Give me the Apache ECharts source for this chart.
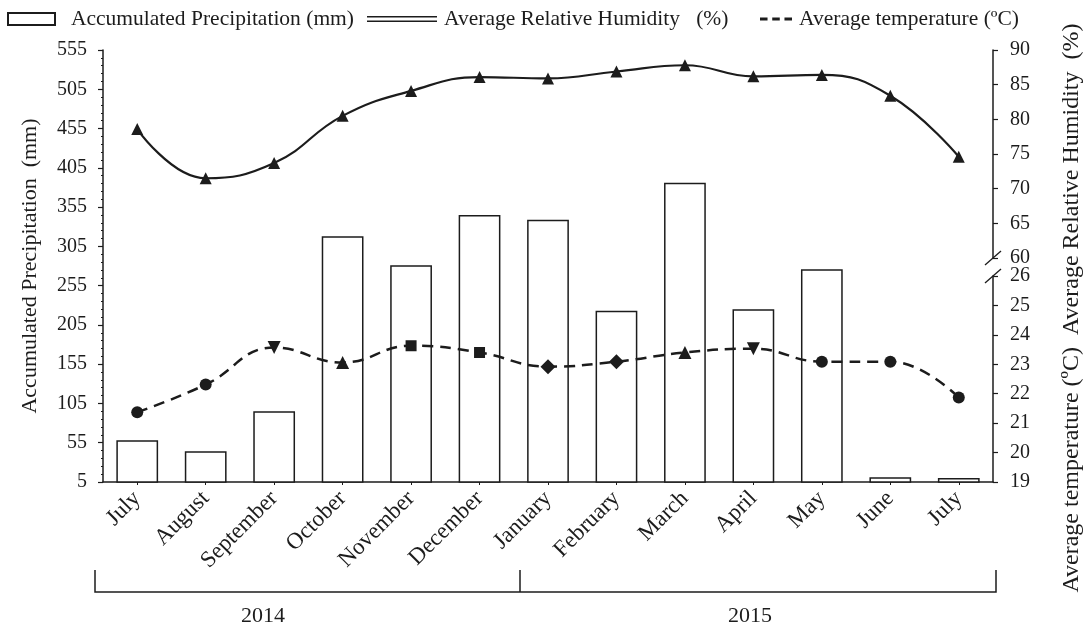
<!DOCTYPE html>
<html>
<head>
<meta charset="utf-8">
<script src="https://cdn.jsdelivr.net/npm/echarts@6/dist/echarts.min.js"></script>
<style>
  html, body { margin: 0; padding: 0; background: #fff; }
  #chart { width: 1086px; height: 629px; }
</style>
</head>
<body>
<div id="chart"></div>
<script>
// Monthly climate record, July 2014 – July 2015
const months = ['July', 'August', 'September', 'October', 'November', 'December',
                'January', 'February', 'March', 'April', 'May', 'June', 'July'];
const precipitation = [58, 44, 95, 318, 281, 345, 339, 223, 386, 225, 276, 11, 10];      // mm
const humidity = [78.6, 71.5, 73.7, 80.5, 84.1, 86.1, 85.9, 86.9, 87.8, 86.2, 86.4, 83.4, 74.6]; // %
const temperature = [21.37, 22.31, 23.57, 23.06, 23.63, 23.40, 22.92, 23.09, 23.40, 23.53, 23.09, 23.09, 21.87]; // ºC
const years = ['2014', '2015'];

// axis ranges (tick labels follow from min / max / step)
const precipAxis = [5, 555, 50];
const humidityAxis = [60, 90, 5];
const tempAxis = [19, 26, 1];

// marker shape per temperature point
const tempMarkers = ['circle', 'circle', 'down', 'triangle', 'rect', 'rect', 'diamond',
                     'diamond', 'triangle', 'down', 'circle', 'circle', 'circle'];
const markerSize = { circle: 12, down: 13, triangle: 13, rect: 11, diamond: 15 };

const INK = '#1c1c1c';
const FONT = '"Liberation Serif", "Times New Roman", serif';

const L = 103, R = 993, TOP = 50, BOTTOM = 482;
const HUM_BOTTOM = 258, TEMP_TOP = 276;
const W = 1086, H = 629;

const names = {
  p: 'Accumulated Precipitation (mm)',
  h: 'Average Relative Humidity   (%)',
  t: 'Average temperature (ºC)'
};

const chart = echarts.init(document.getElementById('chart'), null, { renderer: 'canvas' });

const catAxis = (gi, shown) => ({
  type: 'category', gridIndex: gi, data: months, boundaryGap: true,
  show: shown,
  axisLine: { show: shown, lineStyle: { color: INK, width: 1.5 } },
  axisTick: { show: shown, alignWithLabel: true, length: 3, lineStyle: { color: INK } },
  axisLabel: {
    show: shown, rotate: 45, interval: 0, margin: 13,
    fontFamily: FONT, fontSize: 23, color: INK
  }
});

const valAxis = (gi, range, pos, margin) => ({
  type: 'value', gridIndex: gi, position: pos,
  min: range[0], max: range[1], interval: range[2],
  axisLine: { show: true, lineStyle: { color: INK, width: 1.5 } },
  axisTick: { show: true, length: 5, lineStyle: { color: INK, width: 1.2 } },
  splitLine: { show: false },
  axisLabel: { margin: margin, fontFamily: FONT, fontSize: 20, color: INK }
});

const legendText = (pad) => ({ fontFamily: FONT, fontSize: 21.5, color: INK, padding: [0, 0, 0, pad] });
const legendBase = { top: 3, orient: 'horizontal', selectedMode: false, symbolKeepAspect: false };

chart.setOption({
  animation: false,
  backgroundColor: '#fff',
  grid: [
    { left: L, right: W - R, top: TOP, bottom: H - BOTTOM },
    { left: L, right: W - R, top: TOP, height: HUM_BOTTOM - TOP },
    { left: L, right: W - R, top: TEMP_TOP, bottom: H - BOTTOM }
  ],
  legend: [
    Object.assign({}, legendBase, {
      left: 2, itemWidth: 47, itemHeight: 12,
      data: [{ name: names.p, icon: 'rect' }],
      textStyle: legendText(11)
    }),
    Object.assign({}, legendBase, {
      left: 362, itemWidth: 70, itemHeight: 6,
      data: [{ name: names.h, icon: 'path://M0,0H40V2H0Z M0,6H40V8H0Z' }],
      textStyle: legendText(2)
    }),
    Object.assign({}, legendBase, {
      left: 755, itemWidth: 32, itemHeight: 3,
      data: [{ name: names.t, icon: 'path://M0,0H8V2H0Z M13,0H21V2H13Z M26,0H34V2H26Z' }],
      textStyle: legendText(2)
    })
  ],
  xAxis: [catAxis(0, true), catAxis(1, false), catAxis(2, false)],
  yAxis: [
    Object.assign(valAxis(0, precipAxis, 'left', 16), {
      name: 'Accumulated Precipitation  (mm)',
      nameLocation: 'middle', nameGap: 62, nameRotate: 90,
      nameTextStyle: { fontFamily: FONT, fontSize: 22, color: INK },
      minorTick: { show: true, splitNumber: 5, length: 2, lineStyle: { color: INK } }
    }),
    valAxis(1, humidityAxis, 'right', 17),
    valAxis(2, tempAxis, 'right', 17)
  ],
  series: [
    {
      name: names.p, type: 'bar', xAxisIndex: 0, yAxisIndex: 0,
      data: precipitation, barWidth: '61%',
      itemStyle: { color: '#fff', borderColor: INK, borderWidth: 1.5 },
      z: 2
    },
    {
      name: names.h, type: 'line', xAxisIndex: 1, yAxisIndex: 1,
      data: humidity, smooth: 0.45,
      symbol: 'triangle', symbolSize: 12,
      itemStyle: { color: INK },
      lineStyle: { color: INK, width: 2.2 },
      z: 4
    },
    {
      name: names.t, type: 'line', xAxisIndex: 2, yAxisIndex: 2,
      data: temperature.map((v, i) => {
        const m = tempMarkers[i];
        return m === 'down'
          ? { value: v, symbol: 'triangle', symbolRotate: 180, symbolSize: markerSize.down }
          : { value: v, symbol: m, symbolSize: markerSize[m] };
      }),
      smooth: 0.45,
      itemStyle: { color: INK },
      lineStyle: { color: INK, width: 2.5, type: [11, 7] },
      z: 4
    }
  ],
  graphic: [
    // break marks on the right axis
    { type: 'line', shape: { x1: 985, y1: HUM_BOTTOM + 7, x2: 1001, y2: HUM_BOTTOM - 7 },
      style: { stroke: INK, lineWidth: 1.3 } },
    { type: 'line', shape: { x1: 985, y1: TEMP_TOP + 7, x2: 1001, y2: TEMP_TOP - 7 },
      style: { stroke: INK, lineWidth: 1.3 } },
    // right axis title
    { type: 'text', x: 1072, y: 308, rotation: Math.PI / 2,
      style: { text: 'Average temperature (ºC)  Average Relative Humidity  (%)',
               font: '24px ' + FONT, fill: INK, align: 'center', verticalAlign: 'middle' } },
    // year bracket
    { type: 'polyline', shape: { points: [[95, 570], [95, 592], [996, 592], [996, 570]] },
      style: { stroke: INK, lineWidth: 1.5, fill: null } },
    { type: 'line', shape: { x1: 520, y1: 570, x2: 520, y2: 592 },
      style: { stroke: INK, lineWidth: 1.5 } },
    { type: 'text', x: 263, y: 616,
      style: { text: years[0], font: '22px ' + FONT, fill: INK, align: 'center', verticalAlign: 'middle' } },
    { type: 'text', x: 750, y: 616,
      style: { text: years[1], font: '22px ' + FONT, fill: INK, align: 'center', verticalAlign: 'middle' } }
  ]
});
</script>
</body>
</html>
